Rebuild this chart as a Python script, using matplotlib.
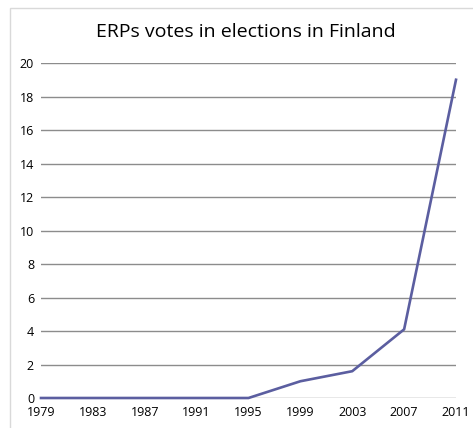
import matplotlib
matplotlib.use("Agg")
import matplotlib.pyplot as plt
from matplotlib.patches import Rectangle

# Dados do gráfico
anos = [1979, 1983, 1987, 1991, 1995, 1999, 2003, 2007, 2011]
votos = [0, 0, 0, 0, 0, 1.0, 1.6, 4.1, 19.0]
ticks_y = [0, 2, 4, 6, 8, 10, 12, 14, 16, 18, 20]

plt.rcParams['font.family'] = ['Open Sans', 'DejaVu Sans']

fig = plt.figure(figsize=(4.73, 4.28), dpi=100)

# Borda externa (só esquerda e topo aparecem)
fig.patches.append(Rectangle((10 / 473, -0.05), 1.2, 1 - 8 / 428 + 0.05,
                             transform=fig.transFigure, fill=False,
                             edgecolor="#d9d9d9", linewidth=1))

ax = fig.add_axes([41 / 473, 1 - 398 / 428, (456 - 41) / 473, (398 - 63) / 428])
ax.plot(anos, votos, color="#5b5ea0", linewidth=1.9, zorder=3, clip_on=False)

ax.set_xlim(1979, 2011)
ax.set_ylim(0, 20)
ax.set_xticks(anos)
ax.set_yticks(ticks_y)
ax.grid(axis="y", color="#8c8c8c", linewidth=1)
ax.set_axisbelow(True)

for s in ["top", "right", "left", "bottom"]:
    ax.spines[s].set_visible(False)

ax.tick_params(axis="both", length=0, labelsize=9, colors="black")
ax.tick_params(axis="y", pad=5)
ax.tick_params(axis="x", pad=6)

fig.text(246 / 473, 1 - 32 / 428, "ERPs votes in elections in Finland",
         ha="center", va="center", fontsize=14)

fig.savefig("out.png", dpi=100)
